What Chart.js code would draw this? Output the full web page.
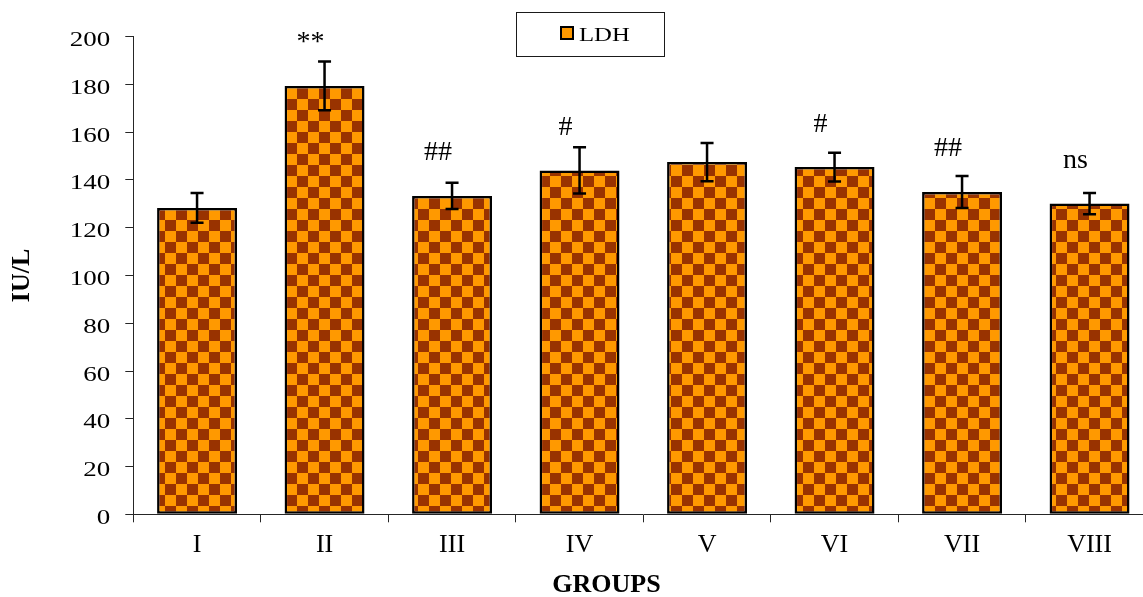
<!DOCTYPE html>
<html>
<head>
<meta charset="utf-8">
<title>LDH by group</title>
<script src="https://cdn.jsdelivr.net/npm/chart.js@4.4.1/dist/chart.umd.min.js"></script>
<style>
  html, body { margin: 0; padding: 0; background: #fff; overflow: hidden; }
  #wrap { width: 1160px; height: 597px; }
</style>
</head>
<body>
<div id="wrap"><canvas id="c" width="1160" height="597"></canvas></div>
<script>
// Serum LDH (IU/L), mean ± error per treatment group
const groups = ['I', 'II', 'III', 'IV', 'V', 'VI', 'VII', 'VIII'];
const ldhMean = [128.3, 179.4, 133.3, 144.0, 147.5, 145.4, 135.0, 130.1];
const ldhErr = [6.2, 10.2, 5.5, 9.7, 8.0, 6.0, 6.7, 4.5];
const significance = ['', '**', '##', '#', '', '#', '##', 'ns'];
const yTicks = [0, 20, 40, 60, 80, 100, 120, 140, 160, 180, 200];

const SERIF = '"Liberation Serif", "Times New Roman", serif';
const INK = '#000';
const AXIS = '#262626';

// orange / brown checkerboard fill
function checkerPattern(ctx, light, dark, cell) {
  const tile = document.createElement('canvas');
  tile.width = tile.height = cell * 2;
  const t = tile.getContext('2d');
  t.fillStyle = light;
  t.fillRect(0, 0, cell * 2, cell * 2);
  t.fillStyle = dark;
  t.fillRect(cell, 0, cell, cell);
  t.fillRect(0, cell, cell, cell);
  return ctx.createPattern(tile, 'repeat');
}

// text drawn a little wider than the font's natural proportions
function wideText(ctx, text, x, y, px, sx, align, weight) {
  ctx.save();
  ctx.font = (weight || 'normal') + ' ' + px + 'px ' + SERIF;
  ctx.fillStyle = INK;
  ctx.textAlign = align;
  ctx.textBaseline = 'alphabetic';
  ctx.translate(x, y);
  ctx.scale(sx, 1);
  ctx.fillText(text, 0, 0);
  ctx.restore();
}

const canvas = document.getElementById('c');
const ctx = canvas.getContext('2d');
const checker = checkerPattern(ctx, '#FF9900', '#993300', 11);

const extras = {
  id: 'extras',
  afterDatasetsDraw(chart) {
    const c = chart.ctx;
    const y = chart.scales.y;
    const meta = chart.getDatasetMeta(0);
    c.save();
    c.strokeStyle = INK;
    c.lineWidth = 2.5;
    meta.data.forEach((bar, i) => {
      const top = y.getPixelForValue(ldhMean[i] + ldhErr[i]);
      const bot = y.getPixelForValue(ldhMean[i] - ldhErr[i]);
      const x = bar.x;
      c.beginPath();
      c.moveTo(x, top); c.lineTo(x, bot);
      c.moveTo(x - 6.5, top); c.lineTo(x + 6.5, top);
      c.moveTo(x - 6.5, bot); c.lineTo(x + 6.5, bot);
      c.stroke();
      // significance marks sit above the bar
      if (significance[i]) {
        c.font = '28px ' + SERIF;
        c.fillStyle = INK;
        c.textAlign = 'center';
        c.textBaseline = 'alphabetic';
        c.fillText(significance[i], x - 14, bar.y - 35.5);
      }
    });
    c.restore();
  },
  afterDraw(chart) {
    const c = chart.ctx;
    const y = chart.scales.y;
    const x = chart.scales.x;
    // value labels of the vertical axis
    y.ticks.forEach(t => {
      wideText(c, String(t.value), y.right - 23, y.getPixelForValue(t.value) + 9.5, 20, 1.35, 'right');
    });
    // horizontal axis title
    c.save();
    c.font = 'bold 26px ' + SERIF;
    c.fillStyle = INK;
    c.textAlign = 'center';
    c.textBaseline = 'alphabetic';
    c.fillText('GROUPS', 606.5, x.bottom - 5);
    c.restore();
    // legend box
    c.save();
    c.strokeStyle = '#1a1a1a';
    c.lineWidth = 1;
    c.strokeRect(516.5, 12.5, 148, 44);
    c.fillStyle = '#FF9900';
    c.fillRect(561, 27, 12, 12);
    c.strokeStyle = INK;
    c.lineWidth = 2;
    c.strokeRect(561, 27, 12, 12);
    c.restore();
    wideText(c, chart.data.datasets[0].label, 579, 41, 19, 1.3, 'left');
  }
};

new Chart(canvas, {
  type: 'bar',
  data: {
    labels: groups,
    datasets: [{
      label: 'LDH',
      data: ldhMean,
      backgroundColor: checker,
      borderColor: INK,
      borderWidth: 2.5,
      borderSkipped: false,
      barPercentage: 0.627,
      categoryPercentage: 1
    }]
  },
  options: {
    responsive: false,
    animation: false,
    layout: { padding: { top: 36.7, right: 6.7, left: 0, bottom: 0 } },
    plugins: { legend: { display: false }, tooltip: { enabled: false } },
    scales: {
      x: {
        type: 'category',
        offset: true,
        grid: { offset: true, drawOnChartArea: false, drawTicks: true, tickLength: 8, color: AXIS, lineWidth: 1 },
        border: { color: AXIS, width: 1 },
        ticks: { color: INK, padding: 7, maxRotation: 0, font: { family: SERIF, size: 26 } },
        title: { display: false },
        afterFit(scale) { scale.height = 82.7; }
      },
      y: {
        min: 0, max: 200,
        afterBuildTicks(scale) { scale.ticks = yTicks.map(v => ({ value: v })); },
        grid: { drawOnChartArea: false, drawTicks: true, tickLength: 8, color: AXIS, lineWidth: 1 },
        border: { color: AXIS, width: 1 },
        ticks: { display: false },
        title: {
          display: true, text: 'IU/L', color: INK,
          font: { family: SERIF, size: 26, weight: 'bold', lineHeight: 1.2 },
          padding: { top: 7, bottom: 0 }
        },
        afterFit(scale) { scale.width = 133.3; }
      }
    }
  },
  plugins: [extras]
});
</script>
</body>
</html>
